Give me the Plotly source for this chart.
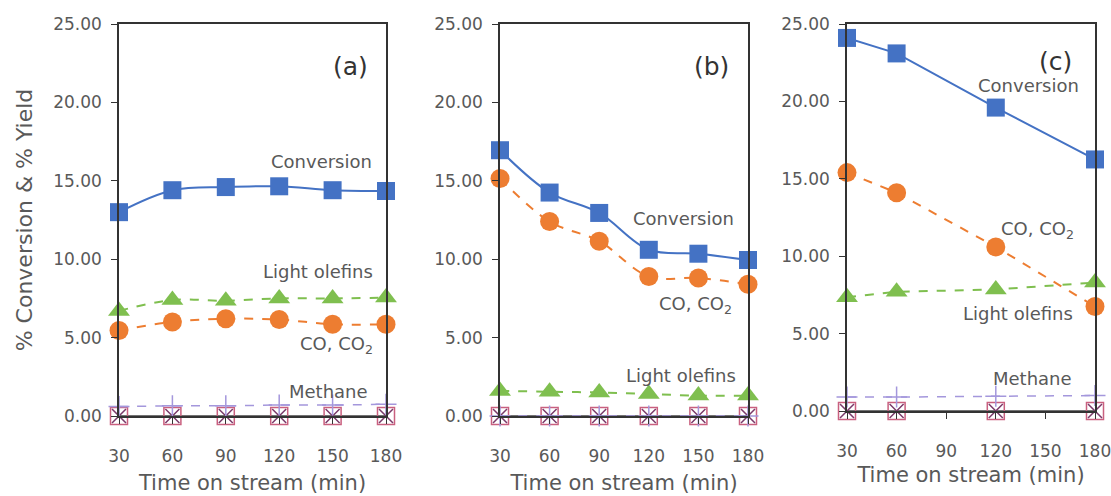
import plotly.graph_objects as go

# ---------------- data ----------------
time_ab = [30, 60, 90, 120, 150, 180]
time_c = [30, 60, 120, 180]

conv_a = [13.0, 14.4, 14.6, 14.65, 14.4, 14.35]
olef_a = [6.7, 7.4, 7.35, 7.5, 7.5, 7.55]
co_a = [5.45, 6.0, 6.2, 6.15, 5.85, 5.85]
meth_a = [0.6, 0.65, 0.65, 0.7, 0.7, 0.75]
other_a = [0, 0, 0, 0, 0, 0]

conv_b = [16.95, 14.25, 12.95, 10.6, 10.35, 9.95]
co_b = [15.15, 12.4, 11.15, 8.9, 8.8, 8.4]
olef_b = [1.6, 1.55, 1.5, 1.4, 1.3, 1.3]
meth_b = [0, 0, 0, 0, 0, 0]
other_b = [0, 0, 0, 0, 0, 0]

conv_c = [24.1, 23.1, 19.6, 16.25]
co_c = [15.4, 14.1, 10.6, 6.75]
olef_c = [7.35, 7.7, 7.85, 8.3]
meth_c = [0.9, 0.9, 0.95, 1.0]
other_c = [0, 0, 0, 0]

x_ticks = [30, 60, 90, 120, 150, 180]
y_ticks = [0, 5, 10, 15, 20, 25]
y_ticklabels = ["0.00", "5.00", "10.00", "15.00", "20.00", "25.00"]

# ---------------- styles ----------------
BLUE = "#4472c4"
ORANGE = "#ed7d31"
GREEN = "#7fbf4f"
LAV = "#a497dc"
PINK = "#c9607f"
PURP = "#7a3a6a"
GRAY = "#595959"
FONT = "DejaVu Sans"

fig = go.Figure()


def add_panel(xs, conv, co, olef, meth, other, ax, shape_conv, shape_dash):
    xa = "x" if ax == 1 else f"x{ax}"
    ya = "y" if ax == 1 else f"y{ax}"
    common = dict(xaxis=xa, yaxis=ya, showlegend=False, cliponaxis=False,
                  mode="lines+markers")
    fig.add_trace(go.Scatter(x=xs, y=other, line=dict(color="#444444", width=1.5),
                             marker=dict(symbol="square-open", size=17, color=PINK,
                                         line=dict(width=1.5)),
                             **common))
    fig.add_trace(go.Scatter(x=xs, y=other, mode="markers", xaxis=xa, yaxis=ya, showlegend=False,
                             cliponaxis=False,
                             marker=dict(symbol="x-thin-open", size=14, color=PURP, line=dict(width=1.5))))
    fig.add_trace(go.Scatter(x=xs, y=meth, line=dict(color=LAV, width=1.5, dash="dash", shape=shape_dash),
                             marker=dict(symbol="cross-thin-open", size=15, color=LAV, line=dict(width=1.5)),
                             **common))
    fig.add_trace(go.Scatter(x=xs, y=olef, line=dict(color=GREEN, width=2, dash="dash", shape=shape_dash),
                             marker=dict(symbol="triangle-up", size=19, color=GREEN), **common))
    fig.add_trace(go.Scatter(x=xs, y=co, line=dict(color=ORANGE, width=2, dash="dash", shape=shape_dash),
                             marker=dict(symbol="circle", size=19, color=ORANGE), **common))
    fig.add_trace(go.Scatter(x=xs, y=conv, line=dict(color=BLUE, width=2, shape=shape_conv),
                             marker=dict(symbol="square", size=18, color=BLUE), **common))


add_panel(time_ab, conv_a, co_a, olef_a, meth_a, other_a, 1, "spline", "spline")
add_panel(time_ab, conv_b, co_b, olef_b, meth_b, other_b, 2, "spline", "spline")
add_panel(time_c, conv_c, co_c, olef_c, meth_c, other_c, 3, "linear", "linear")

W, H = 1111, 496
doms_x = [(119 / W, 386 / W), (500 / W, 748 / W), (847 / W, 1095 / W)]
doms_y = [(1 - 416 / H, 1 - 24 / H), (1 - 416 / H, 1 - 24 / H), (1 - 411 / H, 1 - 24 / H)]
title_standoff = [10, 10, 7]

layout = dict(width=W, height=H, margin=dict(l=0, r=0, t=0, b=0, autoexpand=False),
              paper_bgcolor="white", plot_bgcolor="white",
              font=dict(family=FONT, color=GRAY))

for i in range(3):
    sx = "xaxis" if i == 0 else f"xaxis{i+1}"
    sy = "yaxis" if i == 0 else f"yaxis{i+1}"
    anchor_y = "y" if i == 0 else f"y{i+1}"
    anchor_x = "x" if i == 0 else f"x{i+1}"
    layout[sx] = dict(domain=list(doms_x[i]), anchor=anchor_y, range=[30, 180],
                      tickvals=x_ticks, ticks="outside", ticklen=6, tickcolor="#333333",
                      showline=True, linecolor="#333333", linewidth=1.5, mirror=True,
                      showgrid=False, zeroline=False, automargin=False,
                      ticklabeloverflow="allow",
                      tickfont=dict(size=17, color=GRAY), ticklabelstandoff=18,
                      title=dict(text="Time on stream (min)", font=dict(size=21, color=GRAY),
                                 standoff=title_standoff[i]))
    layout[sy] = dict(domain=list(doms_y[i]), anchor=anchor_x, range=[0, 25],
                      tickvals=y_ticks, ticktext=y_ticklabels, ticks="outside", ticklen=6,
                      tickcolor="#333333", automargin=False,
                      showline=True, linecolor="#333333", linewidth=1.5, mirror=True,
                      showgrid=False, zeroline=False,
                      tickfont=dict(size=17, color=GRAY), ticklabelstandoff=6)

layout["yaxis"]["title"] = dict(text="% Conversion & % Yield", font=dict(size=22, color=GRAY), standoff=14)

ann = []


def lab(text, x, y, ax, size=18, color=GRAY):
    xr = "x" if ax == 1 else f"x{ax}"
    yr = "y" if ax == 1 else f"y{ax}"
    ann.append(dict(text=text, x=x, y=y, xref=xr, yref=yr, showarrow=False,
                    xanchor="center", yanchor="middle", font=dict(size=size, color=color)))


lab("(a)", 160, 22.3, 1, size=25, color="#333333")
lab("Conversion", 144, 16.25, 1)
lab("Light olefins", 142, 9.2, 1)
lab("CO, CO<sub>2</sub>", 152, 4.5, 1)
lab("Methane", 147.5, 1.55, 1)

lab("(b)", 158, 22.3, 2, size=25, color="#333333")
lab("Conversion", 140.7, 12.6, 2)
lab("CO, CO<sub>2</sub>", 148, 7.1, 2)
lab("Light olefins", 139.5, 2.6, 2)

lab("(c)", 156.4, 22.6, 3, size=25, color="#333333")
lab("Conversion", 140, 21.0, 3)
lab("CO, CO<sub>2</sub>", 145, 11.7, 3)
lab("Light olefins", 133.5, 6.33, 3)
lab("Methane", 142, 2.1, 3)

layout["annotations"] = ann
fig.update_layout(**layout)
fig.write_html("out.html")
